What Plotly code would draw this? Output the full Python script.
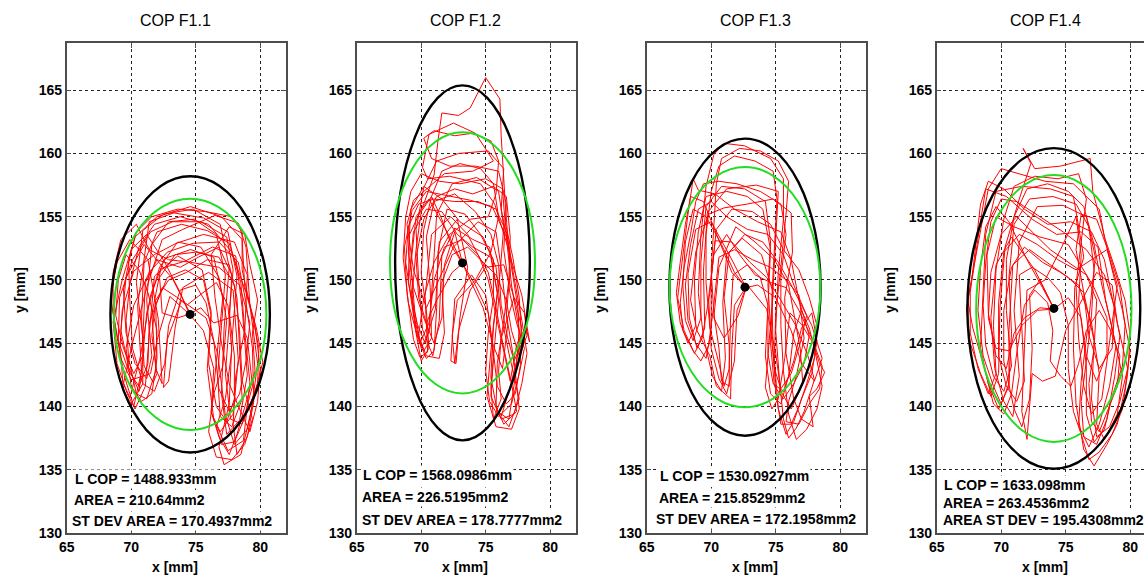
import plotly.graph_objects as go

# ---------------- data ----------------
panel_titles = ["COP F1.1", "COP F1.2", "COP F1.3", "COP F1.4"]

x_ticks = [65, 70, 75, 80]
y_ticks = [130, 135, 140, 145, 150, 155, 160, 165]

cop1_x = [74.5, 73.2, 71.0, 69.6, 69.2, 69.8, 70.6, 71.0, 70.4, 70.9, 72.5, 74.8, 76.9, 77.6, 77.2, 77.0,
          77.4, 78.4, 79.0, 78.6, 78.1, 76.3, 74.2, 72.3, 71.6, 71.9, 72.4, 72.1, 71.3, 69.9, 68.9, 68.4,
          68.9, 69.5, 70.2, 70.8, 70.5, 71.4, 73.3, 75.6, 77.5, 78.2, 77.8, 77.6, 76.8, 77.2, 78.5, 79.3,
          79.8, 79.2, 78.9, 78.3, 76.5, 74.0, 72.4, 71.2, 70.1, 69.4, 69.9, 70.7, 71.5, 72.6, 74.6, 76.4,
          77.1, 76.6, 76.2, 76.9, 77.9, 78.3, 77.9, 76.0, 74.0, 73.4, 72.9, 72.5, 72.8, 73.9, 75.8, 76.7,
          77.3, 78.0, 79.0, 79.6, 80.2, 79.7, 78.8, 78.6, 77.0, 74.6, 72.0, 70.3, 69.3, 68.6, 68.9, 69.7,
          70.3, 71.1, 71.4, 71.8, 73.6, 75.5, 76.2, 75.9, 76.4, 77.5, 78.7, 79.2, 78.8, 79.0, 78.0, 75.6,
          73.5, 71.8, 70.2, 69.3, 69.1, 70.0, 71.5, 72.0, 73.0, 74.5]
cop1_y = [147.5, 150.1, 152.8, 150.2, 146.0, 143.1, 141.2, 144.5, 149.8, 153.9, 155.2, 155.6, 154.4, 151.0,
          146.2, 141.0, 137.8, 138.9, 142.5, 147.8, 151.9, 152.6, 151.5, 150.9, 147.3, 143.0, 141.8, 146.9,
          151.6, 153.2, 151.4, 148.6, 145.5, 142.3, 140.0, 142.8, 148.0, 154.6, 155.3, 154.9, 153.8, 150.3,
          145.0, 140.2, 136.8, 135.4, 136.2, 139.6, 143.4, 148.0, 152.6, 154.5, 155.1, 154.0, 153.2, 149.4,
          145.0, 141.8, 140.7, 143.9, 148.8, 151.7, 152.4, 151.8, 148.6, 143.6, 139.5, 138.0, 139.4, 143.7,
          149.2, 150.6, 149.4, 146.2, 142.0, 141.5, 145.3, 148.4, 147.0, 144.2, 139.3, 137.0, 138.2, 141.1,
          143.5, 146.2, 149.5, 153.2, 155.0, 155.8, 155.0, 153.4, 150.0, 146.7, 143.4, 141.0, 139.8, 141.6,
          145.7, 150.3, 151.9, 150.8, 147.5, 143.0, 139.0, 136.5, 137.3, 141.9, 145.9, 150.4, 153.0, 153.6,
          152.9, 152.0, 150.7, 147.6, 144.0, 142.1, 142.6, 145.2, 148.7, 147.3]
cop1_more = [(73.8, 149.0), (72.6, 151.4), (71.2, 153.6), (70.0, 152.4), (69.4, 149.2), (69.6, 145.8), (70.3, 143.4),
             (71.2, 142.2), (71.6, 144.0), (71.2, 148.4), (71.6, 152.8), (72.9, 154.6), (74.9, 154.8), (76.6, 153.6),
             (77.3, 150.4), (77.0, 146.4), (76.7, 142.4), (76.9, 139.2), (77.8, 138.4), (78.6, 140.6), (78.4, 144.8),
             (78.2, 148.6), (77.6, 151.2), (75.9, 151.6), (74.3, 150.6), (72.9, 150.0), (71.9, 148.4), (71.6, 145.6),
             (72.0, 142.6), (71.7, 141.9), (71.0, 143.2), (70.8, 147.0), (71.0, 151.4), (72.0, 153.8), (73.9, 154.4),
             (75.9, 153.9), (77.6, 152.9), (78.5, 149.8), (78.8, 146.0), (78.1, 142.4), (77.9, 138.6), (78.2, 136.2),
             (79.0, 137.6), (79.5, 140.4), (79.4, 144.6), (78.9, 148.2), (78.3, 151.4), (76.8, 153.0), (74.8, 152.9),
             (72.8, 152.2), (71.4, 150.6), (70.2, 148.0), (69.6, 144.6), (70.0, 141.6), (70.8, 140.4), (71.6, 141.0),
             (72.0, 143.8), (71.9, 148.0), (72.8, 150.2), (74.2, 150.8), (75.6, 150.0), (76.2, 147.2), (76.0, 143.4),
             (76.6, 140.0), (77.4, 138.8), (78.0, 140.6), (78.0, 144.0), (77.6, 147.4), (77.9, 150.8), (77.4, 153.4),
             (75.4, 154.6), (73.2, 154.6), (71.5, 153.8), (70.1, 151.6), (69.1, 148.6), (69.0, 145.2), (69.8, 142.8),
             (70.6, 141.6), (71.3, 143.4), (71.4, 146.6), (72.4, 149.4), (73.6, 148.6), (74.3, 148.0), (75.3, 148.8),
             (76.6, 149.8), (77.5, 148.0), (77.8, 144.4), (77.3, 140.6), (76.6, 138.4), (77.0, 137.0), (78.0, 137.2),
             (79.0, 139.6), (79.8, 141.8), (79.9, 144.6), (79.3, 147.6), (78.6, 150.8), (78.6, 153.8), (77.8, 155.0),
             (75.8, 155.4), (73.6, 155.6), (71.6, 155.0), (70.4, 153.8), (69.8, 151.4), (69.9, 148.2), (70.1, 144.6),
             (70.9, 141.8), (71.8, 141.2), (72.6, 143.4), (72.9, 146.4), (73.8, 149.2), (75.0, 149.6), (75.8, 148.2),
             (76.4, 145.2), (76.8, 141.4), (77.6, 139.6), (78.4, 141.0), (78.9, 143.6), (79.2, 146.6), (78.4, 149.6),
             (76.8, 151.0), (74.6, 151.4), (72.9, 151.6), (71.4, 152.4), (70.4, 154.4), (69.2, 153.2), (68.6, 150.6),
             (68.6, 147.4), (69.2, 144.0), (69.4, 141.2), (70.0, 140.2), (70.9, 141.8), (70.9, 145.4), (71.1, 149.8),
             (72.0, 151.6), (73.8, 151.0), (75.2, 151.8), (76.8, 152.6), (77.8, 150.4), (77.6, 146.6), (77.3, 142.6),
             (77.7, 139.0), (78.6, 138.6), (79.4, 141.6), (79.0, 145.4), (78.2, 147.2), (76.4, 146.6), (75.4, 147.8),
             (74.5, 147.3),
             (75.6, 146.0), (76.4, 143.0), (76.2, 139.6), (76.8, 137.6), (77.6, 136.2), (78.2, 137.8), (78.8, 140.0),
             (79.6, 142.8), (79.4, 145.8), (79.8, 148.4), (79.2, 151.2), (78.8, 153.6), (77.6, 154.2), (76.2, 152.0),
             (76.5, 148.6), (77.0, 145.0), (77.6, 141.8), (78.4, 139.8), (79.2, 138.0), (79.8, 140.4), (80.0, 143.0),
             (79.6, 146.4), (78.9, 149.0), (77.8, 152.2), (76.0, 154.4), (73.8, 155.0), (71.8, 154.4), (70.6, 152.6),
             (69.9, 149.8), (69.6, 146.8), (69.8, 143.8), (70.4, 141.0), (71.2, 140.6), (71.9, 142.8), (72.0, 146.0),
             (71.3, 149.0), (70.6, 150.8), (69.6, 152.0), (69.0, 150.0), (68.8, 147.2), (69.4, 144.6), (70.2, 142.6),
             (70.9, 144.0), (71.2, 147.4), (72.2, 151.0), (73.6, 153.0), (75.4, 152.6), (76.8, 150.2), (77.4, 146.8),
             (77.1, 143.2), (76.4, 141.0), (76.0, 138.0), (76.6, 136.0), (77.8, 135.8), (78.8, 137.0), (79.4, 139.0),
             (78.6, 142.0), (78.4, 146.0), (78.0, 149.6), (76.8, 151.8), (75.0, 152.2), (73.4, 152.0), (72.2, 150.2),
             (72.4, 147.4), (73.6, 147.0), (74.5, 147.3)]

cop2_x = [73.2, 72.0, 70.6, 69.6, 69.2, 69.5, 70.0, 70.6, 70.9, 71.2, 72.4, 74.3, 76.0, 76.4, 76.1, 75.6,
          75.4, 75.9, 76.8, 77.3, 77.6, 77.0, 76.6, 75.5, 73.8, 72.0, 70.4, 69.3, 68.7, 68.9, 69.4, 69.9,
          70.5, 70.3, 70.8, 72.3, 73.6, 74.5, 75.2, 75.8, 76.4, 76.9, 77.4, 78.1, 78.4, 77.8, 77.0, 76.2,
          76.4, 75.2, 72.9, 71.2, 70.2, 69.6, 69.8, 70.1, 70.9, 71.4, 71.6, 72.6, 74.0, 75.3, 75.9, 75.4,
          75.1, 75.8, 77.0, 77.6, 77.2, 76.6, 76.9, 76.5, 76.2, 76.1, 75.0, 73.8, 72.9, 71.6, 71.3, 71.0,
          70.2, 69.1, 69.0, 69.7, 70.3, 71.1, 71.4, 72.8, 73.6, 73.0, 72.7, 72.3, 72.6, 73.9, 75.0, 75.5,
          75.9, 76.6, 77.3, 77.7, 77.5, 76.8, 75.7, 74.6, 72.2, 70.5, 70.1, 70.6, 72.5, 74.2, 75.6, 74.0,
          71.8, 69.4, 68.9, 69.4, 70.4, 71.2, 72.5, 74.4, 75.8, 76.3, 76.7, 76.3, 75.6, 74.8, 73.2]
cop2_y = [151.3, 153.8, 156.4, 155.0, 151.2, 147.5, 144.6, 145.9, 150.3, 155.2, 157.6, 158.1, 157.0, 154.2,
          150.4, 146.5, 142.3, 139.6, 139.0, 142.4, 146.0, 149.6, 153.4, 155.8, 156.3, 156.7, 157.0, 155.5,
          152.6, 149.0, 145.3, 143.9, 144.3, 148.7, 153.6, 155.0, 153.6, 151.8, 150.0, 147.2, 144.5, 142.0,
          144.9, 146.3, 145.1, 148.8, 151.5, 155.6, 158.8, 160.2, 160.0, 159.4, 157.3, 154.0, 150.0, 146.1,
          144.0, 146.8, 151.9, 154.1, 153.2, 152.6, 149.0, 144.4, 140.8, 138.4, 138.2, 139.8, 143.6, 147.3,
          150.7, 156.3, 161.4, 164.3, 166.0, 163.6, 163.0, 163.2, 161.0, 158.3, 156.0, 153.6, 149.8, 146.5,
          145.0, 147.7, 153.0, 154.8, 151.0, 147.0, 143.4, 143.6, 148.5, 150.4, 148.8, 145.2, 141.6, 140.2,
          141.0, 143.3, 147.8, 152.3, 156.0, 157.6, 158.2, 158.0, 158.9, 161.5, 162.4, 161.6, 159.4, 158.6,
          158.4, 156.3, 154.4, 150.8, 147.8, 149.6, 152.6, 154.6, 153.8, 150.2, 146.4, 143.0, 144.8, 147.8,
          151.3]
cop2_more = [(72.4, 152.6), (71.6, 154.8), (70.8, 156.6), (70.0, 155.4), (69.6, 152.4), (69.3, 148.8), (69.6, 146.0),
             (70.2, 144.4), (70.8, 145.4), (70.7, 149.4), (70.4, 153.4), (71.0, 156.2), (72.6, 156.8), (74.2, 155.4),
             (75.4, 153.6), (76.0, 151.2), (76.2, 148.0), (76.7, 145.4), (77.2, 143.6), (77.8, 145.0), (77.6, 148.6),
             (77.1, 151.8), (76.5, 154.6), (76.3, 157.2), (75.0, 158.0), (73.0, 157.6), (71.4, 157.8), (70.0, 158.4),
             (69.2, 157.0), (68.8, 155.0), (68.6, 151.8), (69.0, 148.2), (69.8, 145.2), (70.4, 143.8), (71.0, 144.4),
             (71.2, 147.8), (71.3, 152.2), (72.0, 155.6), (73.4, 155.2), (74.6, 153.6), (75.6, 151.6), (75.6, 148.6),
             (75.2, 145.8), (75.0, 142.8), (75.3, 140.4), (76.0, 139.2), (77.0, 140.2), (77.6, 142.6), (78.0, 144.6),
             (77.4, 146.6), (76.9, 148.8), (76.4, 152.4), (76.6, 156.0), (76.0, 158.6), (74.2, 159.0), (72.2, 159.0),
             (70.8, 159.6), (70.2, 161.2), (71.0, 161.8), (72.6, 161.4), (74.0, 161.6), (75.4, 161.0), (76.0, 159.4),
             (75.8, 156.8), (75.2, 155.0), (73.8, 154.8), (72.2, 153.6), (71.0, 151.4), (70.2, 148.6), (69.8, 145.6),
             (70.4, 144.0), (71.4, 143.8), (71.8, 145.8), (71.6, 149.8), (72.4, 152.0), (73.6, 152.6), (74.8, 151.4),
             (75.8, 150.4), (76.6, 148.4), (77.0, 146.0), (77.6, 144.0), (78.2, 145.6), (78.0, 147.4), (77.2, 148.6),
             (76.2, 145.4), (76.0, 142.8), (76.2, 140.6), (75.6, 139.0), (75.4, 141.6), (75.7, 145.0), (76.0, 148.4),
             (75.4, 151.8), (74.0, 152.6), (72.8, 153.6), (71.6, 155.4), (70.4, 155.6), (69.4, 153.8), (69.1, 150.6),
             (69.4, 147.4), (69.9, 145.0), (70.6, 146.6), (71.0, 150.0), (71.8, 152.6), (73.2, 153.2), (74.4, 152.0),
             (75.2, 150.6), (75.8, 147.8), (76.4, 144.6), (77.0, 141.8), (77.4, 139.6), (76.4, 138.6), (75.8, 140.0),
             (75.9, 143.4), (76.4, 146.8), (76.8, 150.0), (76.9, 153.4), (76.6, 156.6), (75.6, 157.4), (74.0, 156.8),
             (72.6, 157.2), (71.2, 156.6), (70.2, 154.8), (69.6, 151.8), (69.8, 148.6), (70.4, 146.6), (71.2, 148.4),
             (72.4, 150.6), (73.2, 151.3),
             (74.2, 149.6), (75.2, 147.4), (75.6, 143.8), (75.4, 140.8), (76.2, 139.0), (77.2, 139.4), (77.8, 141.8),
             (78.2, 144.2), (77.8, 146.8), (77.2, 150.2), (76.6, 153.8), (75.8, 155.6), (74.4, 156.2), (72.6, 156.2),
             (71.0, 156.4), (69.8, 156.0), (69.0, 154.2), (68.8, 151.4), (69.2, 148.6), (69.6, 145.8), (70.0, 143.6),
             (70.6, 144.6), (70.4, 147.6), (70.0, 150.6), (70.2, 154.0), (70.8, 156.6), (71.6, 158.6), (73.0, 159.2),
             (74.6, 158.8), (75.6, 157.6), (76.0, 155.0), (75.4, 152.2), (74.2, 150.0), (72.8, 148.4), (72.4, 145.6),
             (72.6, 143.4), (72.9, 146.0), (73.8, 149.2), (75.0, 151.0), (76.4, 151.2), (77.2, 148.6), (77.8, 146.2),
             (77.4, 143.6), (76.8, 141.2), (76.2, 139.2), (76.8, 138.4), (77.6, 140.6), (76.8, 144.2), (76.2, 147.2),
             (75.8, 151.0), (74.8, 153.4), (73.0, 154.6), (71.6, 156.4), (70.2, 157.4), (69.2, 155.6), (69.0, 152.2),
             (69.4, 149.4), (70.2, 147.0), (71.0, 145.0), (71.6, 147.0), (71.8, 151.2), (72.6, 153.8), (73.2, 151.3)]

cop3_x = [72.7, 71.5, 70.0, 68.8, 68.2, 68.3, 68.9, 69.5, 69.4, 69.7, 71.2, 73.5, 75.2, 75.0, 74.8, 74.6,
          74.9, 75.6, 76.4, 77.2, 77.6, 76.8, 76.2, 75.4, 73.6, 71.8, 70.3, 69.0, 68.6, 68.2, 67.8, 67.4,
          67.9, 68.7, 69.3, 69.9, 70.3, 71.6, 73.0, 74.3, 75.4, 76.5, 77.5, 78.0, 77.2, 76.6, 76.0, 75.6,
          75.3, 75.0, 75.2, 75.6, 75.6, 74.6, 72.6, 71.0, 70.2, 69.6, 69.2, 69.0, 69.4, 70.1, 70.8, 71.1,
          70.9, 71.2, 72.4, 73.9, 74.8, 74.5, 74.2, 74.7, 75.2, 75.7, 76.1, 77.0, 77.9, 78.4, 78.8, 78.2,
          77.6, 77.9, 77.0, 76.4, 75.8, 75.7, 76.3, 76.2, 74.8, 72.8, 71.0, 69.8, 68.8, 68.4, 68.9, 69.9,
          70.4, 71.5, 71.6, 71.8, 72.8, 74.3, 75.0, 75.4, 76.2, 77.1, 76.9, 76.0, 74.9, 73.4, 71.9, 70.6,
          70.2, 71.0, 72.1, 72.7]
cop3_y = [149.4, 151.8, 154.6, 154.0, 150.5, 147.0, 144.6, 146.2, 150.7, 155.3, 157.2, 157.5, 157.0, 153.6,
          149.4, 145.0, 141.6, 140.6, 141.8, 143.4, 145.6, 148.4, 151.6, 153.8, 154.6, 155.6, 156.8, 157.1,
          158.0, 155.2, 151.8, 148.6, 146.0, 144.2, 145.4, 149.0, 153.1, 153.0, 151.4, 150.2, 148.4, 146.5,
          144.0, 142.1, 139.6, 138.3, 137.5, 139.0, 142.0, 146.0, 150.6, 154.8, 158.0, 159.6, 160.6, 160.8,
          159.9, 157.4, 153.5, 149.0, 145.5, 142.4, 141.2, 143.8, 148.2, 152.0, 153.3, 152.0, 149.0, 145.0,
          141.5, 139.8, 140.6, 143.8, 147.4, 146.5, 145.0, 143.4, 142.7, 141.4, 140.8, 138.4, 139.0, 140.6,
          144.2, 148.6, 152.2, 155.3, 156.4, 156.0, 155.7, 155.2, 152.2, 148.4, 146.0, 144.0, 141.6, 140.6,
          144.6, 148.0, 149.6, 147.7, 144.2, 141.2, 139.8, 141.8, 144.6, 149.6, 151.6, 153.0, 154.2, 151.0,
          147.0, 145.4, 147.2, 149.4]
cop3_more = [(71.8, 150.6), (70.8, 152.8), (69.6, 155.0), (68.6, 155.6), (68.0, 153.0), (67.8, 149.6), (68.0, 146.8),
             (68.6, 145.2), (69.2, 147.0), (69.2, 151.4), (69.6, 155.8), (70.8, 157.4), (72.6, 157.2), (74.2, 156.2),
             (74.6, 153.0), (74.4, 149.6), (74.6, 146.2), (74.9, 143.0), (75.4, 141.4), (76.2, 142.6), (76.9, 145.0),
             (77.4, 147.2), (76.4, 149.6), (75.6, 152.0), (74.4, 153.6), (72.8, 154.0), (71.2, 155.0), (70.0, 156.2),
             (69.0, 155.6), (68.4, 152.8), (68.0, 149.6), (68.2, 146.8), (68.8, 145.0), (69.6, 143.8), (70.0, 146.0),
             (70.0, 150.2), (70.4, 154.0), (71.6, 155.6), (73.2, 155.4), (74.6, 154.4), (75.6, 152.4), (76.8, 150.8),
             (77.6, 148.6), (78.2, 146.4), (78.0, 143.8), (77.4, 141.8), (76.8, 140.0), (76.2, 138.6), (75.4, 138.6),
             (75.0, 141.2), (74.8, 144.6), (74.7, 148.6), (74.9, 152.8), (75.1, 156.4), (74.8, 158.6), (73.4, 159.4),
             (71.8, 159.8), (70.6, 159.0), (70.0, 157.0), (69.6, 153.6), (69.6, 149.8), (69.9, 146.2), (70.6, 143.4),
             (71.0, 141.6), (71.4, 143.0), (71.5, 147.0), (71.7, 150.4), (72.8, 151.2), (73.8, 150.2), (74.4, 148.0),
             (74.2, 144.0), (74.6, 141.0), (75.4, 140.2), (76.0, 142.4), (76.4, 145.8), (77.0, 147.6), (77.6, 146.2),
             (78.0, 144.6), (78.6, 141.6), (78.2, 139.8), (77.4, 138.2), (76.6, 137.4), (76.0, 139.4), (75.6, 142.8),
             (75.4, 146.4), (75.4, 150.2), (75.8, 153.6), (75.4, 156.0), (73.8, 157.0), (72.0, 157.6), (70.6, 157.8),
             (69.4, 157.6), (68.8, 156.2), (68.4, 153.6), (67.9, 151.0), (67.6, 148.2), (67.8, 146.0), (68.6, 144.4),
             (69.2, 143.6), (69.8, 144.8), (70.2, 148.0), (70.6, 151.8), (71.8, 152.4), (73.2, 151.6), (74.6, 151.0),
             (75.8, 150.0), (76.8, 148.8), (77.2, 145.4), (76.6, 142.4), (76.0, 140.4), (75.8, 138.8), (76.8, 138.6),
             (77.6, 140.2), (78.4, 141.4), (78.6, 143.2), (77.8, 145.4), (76.8, 147.6), (75.8, 149.4), (74.6, 149.8),
             (73.4, 150.4), (72.2, 152.0), (71.2, 153.6), (70.2, 152.0), (69.8, 148.6), (70.0, 144.6), (70.6, 142.2),
             (71.2, 141.0), (71.8, 143.6), (72.0, 147.6), (72.7, 149.4),
             (71.6, 150.6), (70.6, 153.2), (69.4, 156.2), (68.4, 156.6), (68.0, 154.4), (67.6, 151.4), (67.3, 149.0),
             (67.6, 146.6), (68.2, 145.0), (68.8, 146.4), (68.7, 150.0), (69.0, 153.8), (69.6, 156.6), (71.2, 157.0),
             (72.8, 156.6), (74.0, 155.6), (74.6, 152.4), (74.4, 148.0), (74.4, 144.2), (74.8, 141.8), (75.6, 141.2),
             (76.4, 143.6), (77.0, 146.2), (77.8, 147.4), (78.2, 145.2), (77.8, 142.6), (77.0, 140.6), (76.4, 138.8),
             (75.8, 137.8), (75.2, 139.8), (74.9, 143.6), (75.0, 147.4), (75.4, 151.0), (75.8, 155.2), (76.0, 157.8),
             (75.2, 159.4), (73.8, 160.2), (72.2, 160.4), (70.8, 159.6), (70.4, 157.6), (70.2, 154.4), (70.0, 150.8),
             (70.2, 147.4), (70.6, 144.6), (70.8, 142.0), (71.4, 141.6), (71.4, 144.8), (71.0, 148.6), (71.4, 152.2),
             (72.6, 153.6), (74.0, 153.0), (75.2, 151.4), (76.2, 149.6), (77.0, 148.0), (77.8, 146.4), (78.6, 143.8),
             (78.0, 142.0), (77.0, 143.4), (76.2, 146.0), (75.0, 148.6), (73.6, 149.6), (72.7, 149.4)]

cop4_x = [74.1, 72.6, 70.8, 69.6, 69.2, 69.5, 70.2, 70.9, 71.4, 71.0, 71.4, 72.8, 74.8, 76.6, 77.3, 76.8,
          76.2, 76.0, 76.8, 77.6, 78.4, 78.9, 78.1, 77.5, 76.2, 74.3, 72.4, 70.4, 68.8, 68.3, 67.8, 67.3,
          67.6, 68.4, 69.2, 69.8, 69.9, 70.3, 71.4, 72.3, 71.7, 72.6, 74.6, 76.9, 77.1, 77.8, 78.6, 79.4,
          80.0, 79.6, 79.0, 78.2, 77.2, 76.4, 75.8, 75.6, 75.7, 76.4, 75.6, 73.8, 71.6, 69.6, 68.8, 68.6,
          68.4, 69.0, 69.8, 70.6, 70.6, 70.9, 72.2, 73.8, 75.2, 76.4, 77.2, 77.0, 77.4, 78.4, 79.2, 79.8,
          79.0, 78.6, 77.4, 75.0, 74.2, 73.2, 72.4, 72.0, 71.6, 71.8, 72.0, 73.4, 74.6, 75.8, 76.2, 76.0,
          76.6, 77.4, 78.2, 78.2, 77.2, 75.2, 73.0, 71.0, 69.6, 68.9, 69.0, 69.6, 70.4, 71.0, 71.8, 73.0,
          74.1]
cop4_y = [147.7, 150.8, 153.4, 151.2, 147.0, 143.0, 140.4, 139.2, 142.4, 147.6, 153.0, 155.8, 155.9, 155.0,
          151.8, 147.0, 142.0, 138.5, 136.8, 138.6, 141.6, 144.8, 148.4, 152.6, 153.8, 153.6, 154.8, 156.6,
          157.2, 154.0, 150.4, 147.7, 145.0, 142.6, 140.8, 142.6, 147.8, 152.6, 156.4, 159.2, 160.4, 158.8,
          159.0, 159.6, 157.0, 154.3, 150.8, 147.6, 144.4, 141.4, 138.6, 137.0, 135.3, 136.6, 140.2, 144.6,
          149.4, 151.8, 156.6, 157.2, 157.4, 157.0, 153.6, 149.0, 144.6, 141.8, 139.8, 141.6, 146.0, 151.2,
          152.4, 151.2, 150.2, 149.0, 145.2, 140.6, 137.6, 138.4, 140.4, 143.0, 146.6, 149.6, 150.6, 146.0,
          142.4, 142.0, 142.6, 137.4, 139.6, 144.6, 149.2, 150.0, 152.4, 155.0, 152.0, 148.2, 144.0, 142.0,
          144.2, 147.0, 149.4, 152.8, 153.4, 154.2, 155.0, 152.0, 147.4, 144.0, 143.0, 145.8, 147.0, 147.8,
          147.7]
cop4_more = [(73.2, 149.4), (72.0, 151.6), (70.6, 154.6), (69.6, 155.8), (68.8, 154.2), (68.4, 151.0), (68.2, 147.6),
             (68.6, 144.0), (69.4, 141.6), (70.0, 140.2), (70.6, 141.8), (70.8, 145.8), (70.6, 150.2), (71.0, 154.4),
             (72.2, 156.4), (74.0, 156.6), (75.8, 156.0), (76.8, 154.2), (77.2, 150.8), (77.0, 147.2), (76.6, 143.6),
             (76.2, 140.4), (76.4, 137.6), (77.4, 137.0), (78.2, 139.0), (78.8, 142.4), (79.2, 145.6), (78.6, 148.6),
             (78.0, 151.6), (77.0, 153.8), (75.4, 154.6), (73.6, 154.4), (71.8, 155.6), (70.2, 157.2), (69.0, 157.8),
             (68.4, 156.0), (68.0, 152.4), (67.6, 149.0), (67.6, 145.8), (68.2, 143.0), (69.0, 141.0), (69.6, 142.6),
             (69.4, 146.4), (69.6, 150.8), (70.2, 154.8), (71.0, 157.4), (72.6, 158.2), (74.4, 158.0), (76.0, 158.4),
             (76.6, 156.4), (76.2, 153.0), (75.8, 149.6), (76.0, 145.4), (76.4, 141.6), (77.0, 139.4), (77.8, 140.6),
             (78.2, 143.6), (78.6, 146.8), (79.0, 149.6), (78.2, 152.4), (77.0, 151.6), (75.8, 150.8), (74.4, 151.6),
             (72.8, 152.8), (71.4, 153.6), (70.2, 152.2), (69.8, 148.2), (69.8, 144.0), (70.4, 141.6), (71.2, 140.4),
             (71.8, 142.0), (71.6, 146.0), (71.4, 150.4), (72.4, 151.0), (73.6, 150.2), (74.6, 149.0), (75.2, 146.4),
             (75.2, 143.0), (75.6, 139.6), (76.2, 137.8), (76.8, 135.8), (77.6, 136.4), (78.6, 137.8), (79.4, 139.8),
             (79.8, 142.6), (80.0, 145.6), (79.6, 148.4), (78.8, 151.0), (78.0, 153.4), (77.6, 155.6), (75.6, 157.6),
             (73.4, 157.8), (71.4, 158.4), (70.0, 158.8), (69.0, 157.2), (68.6, 155.0), (68.0, 151.6), (67.4, 148.4),
             (67.8, 146.2), (68.6, 143.4), (69.4, 140.2), (70.2, 139.4), (70.8, 141.0), (71.2, 144.2), (71.8, 148.0),
             (72.6, 149.2), (73.6, 148.2), (74.0, 146.0), (73.8, 143.6), (74.6, 142.4), (75.4, 141.6), (76.0, 143.4),
             (76.6, 146.0), (77.6, 147.6), (78.4, 146.2), (79.2, 144.0), (79.0, 141.6), (78.2, 139.6), (77.6, 138.0),
             (77.0, 138.8), (76.8, 141.8), (77.2, 144.6), (77.4, 148.4), (76.6, 150.4), (75.2, 151.4), (73.8, 152.4),
             (72.4, 153.8), (71.2, 155.0), (70.0, 153.6), (69.2, 150.6), (69.0, 147.0), (69.6, 144.6), (70.6, 144.4),
             (71.6, 146.4), (72.8, 147.6), (74.1, 147.7),
             (75.2, 148.6), (76.2, 147.0), (76.6, 143.2), (76.6, 139.4), (77.2, 137.2), (78.0, 138.2), (78.6, 140.8),
             (79.4, 143.2), (79.6, 146.4), (79.2, 149.4), (78.4, 152.0), (77.4, 154.8), (76.2, 155.2), (75.8, 152.4),
             (76.4, 149.0), (76.8, 145.6), (77.6, 143.0), (78.6, 144.6), (78.8, 147.8), (78.0, 150.4), (76.6, 152.4),
             (74.8, 153.8), (73.0, 155.0), (71.2, 156.2), (70.0, 156.4), (69.2, 154.6), (68.8, 151.4), (68.6, 148.0),
             (68.8, 144.8), (69.4, 142.4), (70.2, 141.2), (70.8, 143.2), (70.4, 147.6), (70.4, 151.6), (71.0, 155.0),
             (72.0, 157.2), (73.6, 157.6), (75.2, 157.0), (76.4, 155.8), (77.2, 152.8), (77.8, 149.6), (78.6, 146.2),
             (79.4, 142.4), (79.0, 139.4), (78.0, 137.4), (77.4, 138.6), (77.6, 142.6), (77.0, 146.6), (76.0, 149.6),
             (74.6, 150.6), (73.2, 151.4), (71.8, 152.6), (70.8, 151.0), (70.2, 147.6), (70.2, 143.6), (71.0, 139.8),
             (71.6, 138.4), (72.2, 140.6), (72.4, 144.6), (72.2, 148.8), (73.0, 150.0), (74.1, 147.7)]

cop_x = [cop1_x + [p[0] for p in cop1_more], cop2_x + [p[0] for p in cop2_more],
         cop3_x + [p[0] for p in cop3_more], cop4_x + [p[0] for p in cop4_more]]
cop_y = [cop1_y + [p[1] for p in cop1_more], cop2_y + [p[1] for p in cop2_more],
         cop3_y + [p[1] for p in cop3_more], cop4_y + [p[1] for p in cop4_more]]

# mean COP point and ellipse semi-axes (mm)
center_x = [74.57, 73.20, 72.62, 74.08]
center_y = [147.28, 151.35, 149.43, 147.75]
black_rx = [6.18, 5.22, 5.86, 6.70]
black_ry = [10.92, 14.03, 11.74, 12.67]
green_rx = [5.91, 5.62, 5.85, 6.02]
green_ry = [9.13, 10.32, 9.49, 10.55]

info_lines = [
    ["L COP = 1488.933mm", "AREA = 210.64mm2", "ST DEV AREA = 170.4937mm2"],
    ["L COP = 1568.0986mm", "AREA = 226.5195mm2", "ST DEV AREA = 178.7777mm2"],
    ["L COP = 1530.0927mm", "AREA = 215.8529mm2", "ST DEV AREA = 172.1958mm2"],
    ["L COP = 1633.098mm", "AREA = 263.4536mm2", "AREA ST DEV = 195.4308mm2"],
]
info_x = [[65.50, 65.40, 65.24], [65.32, 65.24, 65.24], [65.89, 65.78, 65.58], [65.40, 65.35, 65.35]]
info_y = [[134.25, 132.58, 130.92], [134.60, 132.83, 131.05], [134.52, 132.77, 131.08], [133.80, 132.40, 131.00]]

x_ranges = [[65, 82.0], [65, 82.0], [65, 82.0], [65, 81.07]]
y_range = [130, 168.73]

# ---------------- layout geometry ----------------
W, H = 1144, 575
panel_left = [66.7, 356.7, 646.7, 936.7]
panel_w = 219.3
mt, mb = 43, 42
plot_h = H - mt - mb

FONT = "Liberation Sans"

fig = go.Figure()
shapes = []
annotations = []
layout = {}

for i in range(4):
    sfx = "" if i == 0 else str(i + 1)
    xa, ya = "x" + sfx, "y" + sfx
    fig.add_trace(go.Scatter(x=cop_x[i], y=cop_y[i], mode="lines",
                             line=dict(color="#ff0000", width=1),
                             xaxis=xa, yaxis=ya, hoverinfo="skip", showlegend=False))
    fig.add_trace(go.Scatter(x=[center_x[i]], y=[center_y[i]], mode="markers",
                             marker=dict(color="black", size=9),
                             xaxis=xa, yaxis=ya, hoverinfo="skip", showlegend=False))
    for rx, ry, col, lw in [(black_rx[i], black_ry[i], "#000000", 2.4),
                            (green_rx[i], green_ry[i], "#22dd22", 2)]:
        shapes.append(dict(type="circle", xref=xa, yref=ya,
                           x0=center_x[i] - rx, x1=center_x[i] + rx,
                           y0=center_y[i] - ry, y1=center_y[i] + ry,
                           line=dict(color=col, width=lw)))
    left = panel_left[i]
    right = min(left + panel_w, W)
    dom = [left / W, right / W]
    axis_common = dict(showgrid=True, gridcolor="#222222", gridwidth=1, griddash="3px,3px",
                       zeroline=False, showline=True, linecolor="#4d4d4d", linewidth=1.5,
                       ticks="inside", ticklen=5, tickcolor="#4d4d4d",
                       tickfont=dict(family=FONT, size=14, color="black", weight="bold"),
                       automargin=False, fixedrange=True)
    layout["xaxis" + sfx] = dict(axis_common, domain=dom, range=x_ranges[i], tickvals=x_ticks,
                                 anchor=ya, mirror="ticks")
    layout["yaxis" + sfx] = dict(axis_common, domain=[0, 1], range=y_range, tickvals=y_ticks,
                                 anchor=xa, mirror=("ticks" if i < 3 else False))
    # panel title
    annotations.append(dict(text=panel_titles[i], xref="paper", yref="paper",
                            x=(left + 108.5) / W, y=(H - mb - 21) / plot_h,
                            xanchor="center", yanchor="middle", showarrow=False,
                            font=dict(family=FONT, size=16, color="black")))
    # axis labels
    annotations.append(dict(text="x [mm]", xref="paper", yref="paper",
                            x=(left + 108.5) / W, y=(H - mb - 567) / plot_h,
                            xanchor="center", yanchor="middle", showarrow=False,
                            font=dict(family=FONT, size=14, color="black", weight="bold")))
    annotations.append(dict(text="y [mm]", xref="paper", yref="paper",
                            x=(left - 46.7) / W, y=(H - mb - 290) / plot_h,
                            xanchor="center", yanchor="middle", showarrow=False, textangle=-90,
                            font=dict(family=FONT, size=14, color="black", weight="bold")))
    # info text with white background
    for t, tx, ty in zip(info_lines[i], info_x[i], info_y[i]):
        annotations.append(dict(text=t, xref=xa, yref=ya, x=tx, y=ty,
                                xanchor="left", yanchor="middle", showarrow=False,
                                bgcolor="white", borderpad=1,
                                font=dict(family=FONT, size=14, color="black", weight="bold")))

fig.update_layout(
    width=W, height=H,
    margin=dict(l=0, r=0, t=mt, b=mb, pad=0),
    paper_bgcolor="white", plot_bgcolor="white",
    shapes=shapes, annotations=annotations,
    showlegend=False, template="none",
    **layout,
)

fig.write_html("out.html", config={"displayModeBar": False})
